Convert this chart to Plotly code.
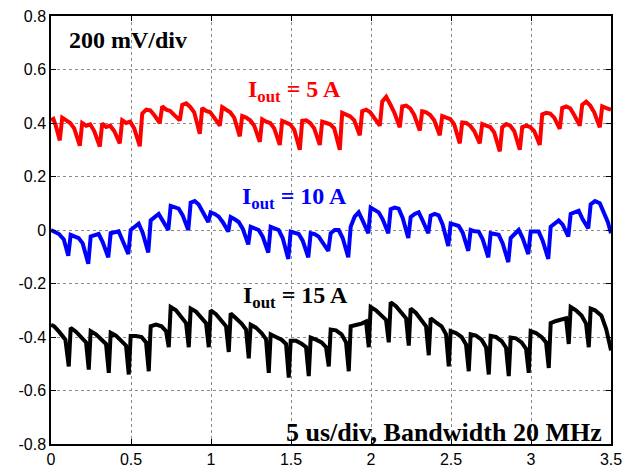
import plotly.graph_objects as go

# ---- data (time axis in div units, voltage in V) ----
t_5A = [0, 0.015, 0.030,
        0.055, 0.070, 0.095, 0.120, 0.145,
        0.180, 0.195, 0.220, 0.245, 0.270,
        0.305, 0.320, 0.345, 0.370, 0.395,
        0.430, 0.445, 0.470, 0.495, 0.520,
        0.555, 0.570, 0.595, 0.620, 0.645,
        0.680, 0.695, 0.720, 0.745, 0.770,
        0.805, 0.820, 0.845, 0.870, 0.895,
        0.930, 0.945, 0.970, 0.995, 1.020,
        1.055, 1.070, 1.095, 1.120, 1.145,
        1.180, 1.195, 1.220, 1.245, 1.270,
        1.305, 1.320, 1.345, 1.370, 1.395,
        1.430, 1.445, 1.470, 1.495, 1.520,
        1.555, 1.570, 1.595, 1.620, 1.645,
        1.680, 1.695, 1.720, 1.745, 1.770,
        1.805, 1.820, 1.845, 1.870, 1.895,
        1.930, 1.945, 1.970, 1.995, 2.020,
        2.055, 2.070, 2.095, 2.120, 2.145,
        2.180, 2.195, 2.220, 2.245, 2.270,
        2.305, 2.320, 2.345, 2.370, 2.395,
        2.430, 2.445, 2.470, 2.495, 2.520,
        2.555, 2.570, 2.595, 2.620, 2.645,
        2.680, 2.695, 2.720, 2.745, 2.770,
        2.805, 2.820, 2.845, 2.870, 2.895,
        2.930, 2.945, 2.970, 2.995, 3.020,
        3.055, 3.070, 3.095, 3.120, 3.145,
        3.180, 3.195, 3.220, 3.245, 3.270,
        3.305, 3.320, 3.345, 3.370, 3.395,
        3.430, 3.445, 3.475, 3.500]
v_5A = [0.41, 0.415, 0.39,
        0.335, 0.42, 0.41, 0.40, 0.38,
        0.315, 0.40, 0.39, 0.395, 0.37,
        0.312, 0.398, 0.385, 0.39, 0.37,
        0.324, 0.41, 0.40, 0.405, 0.38,
        0.313, 0.435, 0.45, 0.447, 0.43,
        0.40, 0.462, 0.45, 0.445, 0.43,
        0.41, 0.468, 0.474, 0.46, 0.44,
        0.36, 0.456, 0.445, 0.44, 0.42,
        0.39, 0.459, 0.45, 0.44, 0.42,
        0.35, 0.426, 0.42, 0.41, 0.39,
        0.33, 0.414, 0.405, 0.40, 0.38,
        0.318, 0.408, 0.40, 0.395, 0.375,
        0.30, 0.408, 0.41, 0.40, 0.38,
        0.318, 0.405, 0.40, 0.395, 0.38,
        0.30, 0.438, 0.43, 0.425, 0.41,
        0.354, 0.444, 0.45, 0.44, 0.42,
        0.39, 0.48, 0.498, 0.47, 0.44,
        0.384, 0.462, 0.465, 0.455, 0.43,
        0.372, 0.444, 0.44, 0.43, 0.41,
        0.354, 0.426, 0.42, 0.415, 0.395,
        0.324, 0.402, 0.40, 0.39, 0.37,
        0.324, 0.396, 0.39, 0.385, 0.365,
        0.294, 0.384, 0.396, 0.39, 0.37,
        0.30, 0.384, 0.39, 0.385, 0.37,
        0.318, 0.432, 0.438, 0.435, 0.42,
        0.378, 0.456, 0.462, 0.455, 0.43,
        0.39, 0.468, 0.48, 0.465, 0.44,
        0.384, 0.462, 0.455, 0.45]

t_10A = [0, 0.02, 0.05, 0.08,
         0.108, 0.123, 0.148, 0.173, 0.198,
         0.233, 0.248, 0.273, 0.298, 0.323,
         0.358, 0.373, 0.398, 0.423, 0.448,
         0.483, 0.498, 0.523, 0.548, 0.573,
         0.608, 0.623, 0.648, 0.673, 0.698,
         0.733, 0.748, 0.773, 0.798, 0.823,
         0.858, 0.873, 0.898, 0.923, 0.948,
         0.983, 0.998, 1.023, 1.048, 1.073,
         1.108, 1.123, 1.148, 1.173, 1.198,
         1.233, 1.248, 1.273, 1.298, 1.323,
         1.358, 1.373, 1.398, 1.423, 1.448,
         1.483, 1.498, 1.523, 1.548, 1.573,
         1.608, 1.623, 1.648, 1.673, 1.698,
         1.733, 1.748, 1.773, 1.798, 1.823,
         1.858, 1.873, 1.898, 1.923, 1.948,
         1.983, 1.998, 2.023, 2.048, 2.073,
         2.108, 2.123, 2.148, 2.173, 2.198,
         2.233, 2.248, 2.273, 2.298, 2.323,
         2.358, 2.373, 2.398, 2.423, 2.448,
         2.483, 2.498, 2.523, 2.548, 2.573,
         2.608, 2.623, 2.648, 2.673, 2.698,
         2.733, 2.748, 2.773, 2.798, 2.823,
         2.858, 2.873, 2.898, 2.923, 2.948,
         2.983, 2.998, 3.023, 3.048, 3.073,
         3.108, 3.123, 3.148, 3.173, 3.198,
         3.233, 3.248, 3.273, 3.298, 3.323,
         3.358, 3.373, 3.400, 3.430, 3.460, 3.480, 3.500]
v_10A = [0.0, -0.005, -0.015, -0.035,
         -0.096, -0.018, -0.025, -0.03, -0.05,
         -0.126, -0.024, -0.02, -0.015, -0.045,
         -0.102, -0.012, -0.01, -0.005, -0.04,
         -0.09, 0.0, 0.012, 0.024, -0.01,
         -0.084, 0.036, 0.05, 0.06, 0.035,
         0.0, 0.09, 0.085, 0.08, 0.055,
         0.0, 0.102, 0.108, 0.095, 0.065,
         0.03, 0.066, 0.06, 0.05, 0.03,
         -0.006, 0.048, 0.04, 0.03, 0.005,
         -0.054, 0.012, 0.005, 0.0, -0.025,
         -0.084, 0.012, 0.005, 0.0, -0.03,
         -0.108, -0.006, -0.01, -0.015, -0.04,
         -0.102, -0.012, -0.015, -0.025, -0.045,
         -0.078, -0.012, 0.0, 0.0, -0.03,
         -0.102, 0.012, 0.05, 0.066, 0.035,
         -0.012, 0.084, 0.075, 0.066, 0.04,
         -0.012, 0.078, 0.084, 0.08, 0.045,
         -0.03, 0.048, 0.06, 0.066, 0.035,
         -0.012, 0.054, 0.06, 0.055, 0.02,
         -0.06, 0.024, 0.02, 0.015, -0.01,
         -0.078, 0.0, -0.005, -0.006, -0.035,
         -0.102, -0.012, -0.015, -0.018, -0.05,
         -0.12, -0.03, -0.015, 0.0, -0.03,
         -0.09, -0.006, -0.005, -0.006, -0.04,
         -0.108, 0.012, 0.025, 0.036, 0.02,
         -0.024, 0.06, 0.065, 0.072, 0.04,
         0.006, 0.096, 0.108, 0.10, 0.06, 0.03, -0.012]

t_15A = [0, 0.02, 0.05, 0.09,
         0.111, 0.123, 0.156, 0.191, 0.219,
         0.236, 0.248, 0.281, 0.316, 0.344,
         0.361, 0.373, 0.406, 0.441, 0.469,
         0.486, 0.498, 0.531, 0.566, 0.594,
         0.611, 0.623, 0.656, 0.691, 0.719,
         0.736, 0.748, 0.781, 0.816, 0.844,
         0.861, 0.873, 0.906, 0.941, 0.969,
         0.986, 0.998, 1.031, 1.066, 1.094,
         1.111, 1.123, 1.156, 1.191, 1.219,
         1.236, 1.248, 1.281, 1.316, 1.344,
         1.361, 1.373, 1.406, 1.441, 1.469,
         1.486, 1.498, 1.531, 1.566, 1.594,
         1.611, 1.623, 1.656, 1.691, 1.719,
         1.736, 1.748, 1.781, 1.816, 1.844,
         1.861, 1.873, 1.906, 1.941, 1.969,
         1.986, 1.998, 2.031, 2.066, 2.094,
         2.111, 2.123, 2.156, 2.191, 2.219,
         2.236, 2.248, 2.281, 2.316, 2.344,
         2.361, 2.373, 2.406, 2.441, 2.469,
         2.486, 2.498, 2.531, 2.566, 2.594,
         2.611, 2.623, 2.656, 2.691, 2.719,
         2.736, 2.748, 2.781, 2.816, 2.844,
         2.861, 2.873, 2.906, 2.941, 2.969,
         2.986, 2.998, 3.031, 3.066, 3.094,
         3.111, 3.123, 3.156, 3.191, 3.219,
         3.236, 3.248, 3.281, 3.316, 3.344,
         3.361, 3.373, 3.400, 3.440, 3.470, 3.500]
v_15A = [-0.354, -0.36, -0.38, -0.41,
         -0.51, -0.366, -0.38, -0.40, -0.42,
         -0.522, -0.378, -0.39, -0.41, -0.426,
         -0.534, -0.384, -0.395, -0.415, -0.432,
         -0.54, -0.396, -0.396, -0.40, -0.42,
         -0.528, -0.36, -0.354, -0.36, -0.378,
         -0.438, -0.288, -0.30, -0.325, -0.348,
         -0.438, -0.294, -0.305, -0.33, -0.348,
         -0.438, -0.30, -0.315, -0.34, -0.36,
         -0.456, -0.312, -0.33, -0.35, -0.372,
         -0.48, -0.354, -0.365, -0.385, -0.408,
         -0.534, -0.39, -0.40, -0.41, -0.426,
         -0.552, -0.414, -0.414, -0.425, -0.438,
         -0.546, -0.402, -0.41, -0.42, -0.438,
         -0.51, -0.372, -0.375, -0.39, -0.42,
         -0.528, -0.36, -0.355, -0.35, -0.342,
         -0.438, -0.288, -0.30, -0.32, -0.336,
         -0.42, -0.27, -0.285, -0.31, -0.33,
         -0.432, -0.294, -0.31, -0.34, -0.36,
         -0.468, -0.33, -0.345, -0.36, -0.39,
         -0.51, -0.378, -0.385, -0.40, -0.428,
         -0.528, -0.39, -0.395, -0.41, -0.438,
         -0.54, -0.396, -0.40, -0.415, -0.44,
         -0.546, -0.402, -0.405, -0.42, -0.444,
         -0.534, -0.378, -0.385, -0.40, -0.42,
         -0.516, -0.348, -0.34, -0.336, -0.33,
         -0.426, -0.288, -0.30, -0.32, -0.35,
         -0.438, -0.294, -0.30, -0.32, -0.37, -0.45]

x_ticks = [0, 0.5, 1, 1.5, 2, 2.5, 3, 3.5]
x_ticklabels = ["0", "0.5", "1", "1.5", "2", "2.5", "3", "3.5"]
y_ticks = [-0.8, -0.6, -0.4, -0.2, 0, 0.2, 0.4, 0.6, 0.8]
y_ticklabels = ["-0.8", "-0.6", "-0.4", "-0.2", "0", "0.2", "0.4", "0.6", "0.8"]

series = [
    ("I_out = 5 A", t_5A, v_5A, "#ff0000"),
    ("I_out = 10 A", t_10A, v_10A, "#0000ff"),
    ("I_out = 15 A", t_15A, v_15A, "#000000"),
]

fig = go.Figure()
for name, t, v, c in series:
    fig.add_trace(go.Scatter(x=t, y=v, mode="lines", name=name,
                             line=dict(color=c, width=4), showlegend=False))

serif = "Liberation Serif, Times New Roman, serif"
ann = [
    dict(x=0.10, y=0.71, text="<b>200 mV/div</b>", xanchor="left", color="black", size=24),
    dict(x=1.52, y=0.518, text="<b>I<sub>out</sub> = 5 A</b>", xanchor="center", color="#ff0000", size=24),
    dict(x=1.52, y=0.118, text="<b>I<sub>out</sub> = 10 A</b>", xanchor="center", color="#0000ff", size=24),
    dict(x=1.53, y=-0.249, text="<b>I<sub>out</sub> = 15 A</b>", xanchor="center", color="#000000", size=24),
    dict(x=3.455, y=-0.758, text="<b>5 us/div, Bandwidth 20 MHz</b>", xanchor="right", color="black", size=26),
]
for a in ann:
    fig.add_annotation(x=a["x"], y=a["y"], xref="x", yref="y", text=a["text"],
                       showarrow=False, xanchor=a["xanchor"], yanchor="middle",
                       font=dict(family=serif, size=a["size"], color=a["color"]))

axis_common = dict(showline=True, linecolor="black", linewidth=1.5, mirror="ticks",
                   ticks="inside", ticklen=5, tickcolor="black",
                   showgrid=True, gridcolor="#8c8c8c", griddash="dot", gridwidth=1,
                   zeroline=False,
                   tickfont=dict(family="Liberation Sans, Arial, sans-serif", size=16, color="black"))

fig.update_xaxes(range=[0, 3.5], tickvals=x_ticks, ticktext=x_ticklabels, **axis_common)
fig.update_yaxes(range=[-0.8, 0.8], tickvals=y_ticks, ticktext=y_ticklabels, **axis_common)

fig.update_layout(width=639, height=476, margin=dict(l=51, r=28, t=8, b=24),
                  plot_bgcolor="white", paper_bgcolor="white")

fig.write_html("out.html")
